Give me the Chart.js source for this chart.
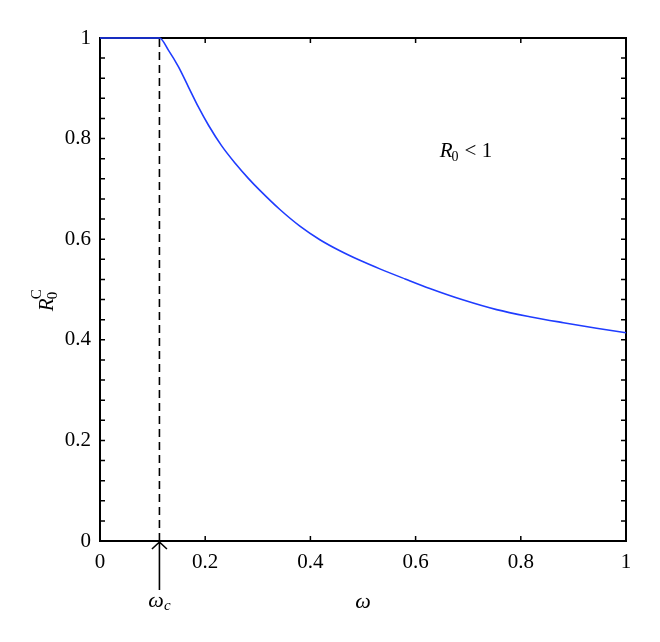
<!DOCTYPE html>
<html>
<head>
<meta charset="utf-8">
<script src="https://cdn.jsdelivr.net/npm/chart.js@4/dist/chart.umd.min.js"></script>
<style>
  html, body { margin: 0; padding: 0; background: #fff; }
  #wrap { width: 660px; height: 642px; }
</style>
</head>
<body>
<div id="wrap"><canvas id="c" width="660" height="642"></canvas></div>
<script>
// ---- data ----
const omega = [0, 0.113, 0.13, 0.149, 0.168, 0.187, 0.206, 0.231, 0.257, 0.282, 0.304, 0.342, 0.38, 0.418, 0.456, 0.494, 0.532, 0.58, 0.627, 0.691, 0.754, 0.817, 0.881, 0.944, 1.0];
const R0C   = [1, 1, 0.976, 0.943, 0.903, 0.863, 0.827, 0.786, 0.751, 0.721, 0.697, 0.659, 0.626, 0.599, 0.577, 0.558, 0.541, 0.521, 0.502, 0.479, 0.46, 0.446, 0.434, 0.423, 0.414];
const omegaC = 0.113;
const criticalLineY = [0, 1];
const xTicks = [0, 0.2, 0.4, 0.6, 0.8, 1];
const yTicks = [0, 0.2, 0.4, 0.6, 0.8, 1];
const textLabel = { x: 0.646, y: 0.763 };

const SERIF = '"Liberation Serif", "DejaVu Serif", serif';

const curve = omega.map((w, i) => ({ x: w, y: R0C[i] }));
const dashed = criticalLineY.map(v => ({ x: omegaC, y: v }));

const fmt = v => String(Math.round(v * 10) / 10);
const isMajor = v => Math.abs(v * 5 - Math.round(v * 5)) < 1e-6;

const frame = {
  id: 'frame',
  beforeDatasetsDraw(chart) {
    const { ctx, chartArea: a, scales: { x, y } } = chart;
    ctx.save();
    ctx.strokeStyle = '#000';
    ctx.lineWidth = 2;
    ctx.strokeRect(a.left, a.top, a.right - a.left, a.bottom - a.top);
    ctx.lineWidth = 1.5;
    ctx.beginPath();
    xTicks.forEach(v => {
      const px = x.getPixelForValue(v);
      ctx.moveTo(px, a.bottom); ctx.lineTo(px, a.bottom - 5);
      ctx.moveTo(px, a.top); ctx.lineTo(px, a.top + 5);
    });
    y.ticks.forEach(t => {
      const py = y.getPixelForValue(t.value);
      ctx.moveTo(a.left, py); ctx.lineTo(a.left + 5, py);
      ctx.moveTo(a.right, py); ctx.lineTo(a.right - 5, py);
    });
    ctx.stroke();
    ctx.restore();
  },
  afterDatasetsDraw(chart) {
    const { ctx, chartArea: a, scales: { x, y } } = chart;
    ctx.save();
    ctx.strokeStyle = '#000';
    // arrow at omega_c
    const xc = x.getPixelForValue(omegaC);
    ctx.lineWidth = 1.6;
    ctx.beginPath();
    ctx.moveTo(xc, a.bottom + 49); ctx.lineTo(xc, a.bottom + 1);
    ctx.moveTo(xc - 7.5, a.bottom + 8); ctx.lineTo(xc, a.bottom + 1); ctx.lineTo(xc + 7.5, a.bottom + 8);
    ctx.stroke();

    ctx.fillStyle = '#000';
    ctx.textBaseline = 'alphabetic';
    // omega_c label
    ctx.font = 'italic 22px ' + SERIF;
    ctx.textAlign = 'left';
    const wW = ctx.measureText('ω').width;
    ctx.font = 'italic 15px ' + SERIF;
    const cW = ctx.measureText('c').width;
    const startX = xc - (wW + cW) / 2;
    ctx.font = 'italic 22px ' + SERIF;
    ctx.fillText('ω', startX, a.bottom + 66);
    ctx.font = 'italic 15px ' + SERIF;
    ctx.fillText('c', startX + wW, a.bottom + 69);

    // x axis title
    ctx.font = 'italic 22px ' + SERIF;
    ctx.textAlign = 'center';
    ctx.fillText('ω', x.getPixelForValue(0.5), a.bottom + 67);

    // R0 < 1 label
    const lx = x.getPixelForValue(textLabel.x);
    const ly = y.getPixelForValue(textLabel.y);
    ctx.textAlign = 'left';
    ctx.font = 'italic 21px ' + SERIF;
    ctx.fillText('R', lx, ly);
    let off = ctx.measureText('R').width;
    ctx.font = '14px ' + SERIF;
    ctx.fillText('0', lx + off - 1, ly + 4);
    off += ctx.measureText('0').width + 5;
    ctx.font = '21px ' + SERIF;
    ctx.fillText('< 1', lx + off, ly);

    // y axis title R_0^C rotated
    ctx.save();
    ctx.translate(a.left - 47, y.getPixelForValue(0.457));
    ctx.rotate(-Math.PI / 2);
    ctx.font = 'italic 21px ' + SERIF;
    ctx.fillText('R', 0, 0);
    const rW = ctx.measureText('R').width;
    ctx.font = '15px ' + SERIF;
    ctx.fillText('0', rW - 1, 4);
    ctx.fillText('C', rW - 1, -12);
    ctx.restore();

    ctx.restore();
  }
};

new Chart(document.getElementById('c'), {
  type: 'line',
  data: {
    datasets: [
      {
        data: curve,
        borderColor: '#1f3cff',
        borderWidth: 1.6,
        pointRadius: 0,
        cubicInterpolationMode: 'monotone',
        fill: false,
        clip: 5
      },
      {
        data: dashed,
        borderColor: '#000',
        borderWidth: 1.6,
        borderDash: [8, 5],
        pointRadius: 0,
        fill: false,
        clip: 5
      }
    ]
  },
  options: {
    responsive: false,
    animation: false,
    devicePixelRatio: 1,
    layout: { padding: { top: 38, right: 34, left: 0, bottom: 0 } },
    plugins: { legend: { display: false }, tooltip: { enabled: false } },
    scales: {
      x: {
        type: 'linear', min: 0, max: 1,
        grid: { display: false, drawTicks: false },
        border: { display: false },
        afterFit(s) { s.height = 101; },
        afterBuildTicks(s) { s.ticks = xTicks.map(v => ({ value: v })); },
        ticks: {
          padding: 9,
          color: '#000',
          font: { family: SERIF, size: 21 },
          maxRotation: 0,
          callback: v => fmt(v)
        }
      },
      y: {
        type: 'linear', min: 0, max: 1,
        grid: { display: false, drawTicks: false },
        border: { display: false },
        afterFit(s) { s.width = 100; },
        ticks: {
          stepSize: 0.04,
          autoSkip: false,
          padding: 9,
          color: '#000',
          font: { family: SERIF, size: 21 },
          callback: v => isMajor(v) ? fmt(v) : ''
        }
      }
    }
  },
  plugins: [frame]
});
</script>
</body>
</html>
